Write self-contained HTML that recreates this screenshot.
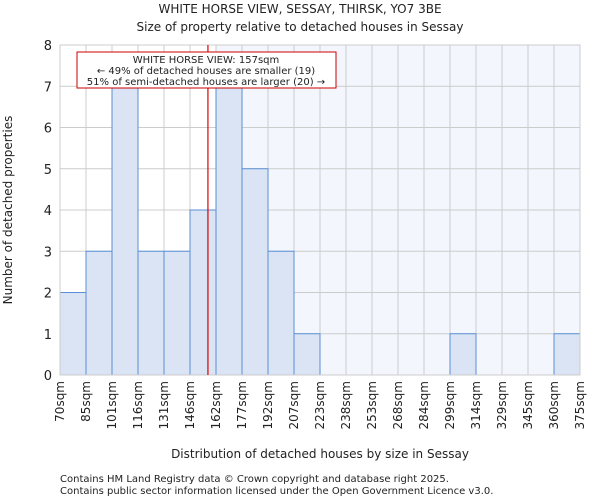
<!DOCTYPE html>
<html><head><meta charset="utf-8"><style>
body{margin:0;background:#fff;font-family:"DejaVu Sans","Liberation Sans",sans-serif;}
svg text{font-family:"DejaVu Sans","Liberation Sans",sans-serif;fill:#222;}
</style></head><body>
<svg id="chart" width="600" height="500" xmlns="http://www.w3.org/2000/svg">
<text x="300" y="13" text-anchor="middle" font-size="12">WHITE HORSE VIEW, SESSAY, THIRSK, YO7 3BE</text>
<text x="300" y="31" text-anchor="middle" font-size="12">Size of property relative to detached houses in Sessay</text>
<g id="plot"></g>
<text transform="translate(12,210) rotate(-90)" text-anchor="middle" font-size="12">Number of detached properties</text>
<text x="320" y="458" text-anchor="middle" font-size="12">Distribution of detached houses by size in Sessay</text>
<text x="60" y="482" font-size="10" fill="#444">Contains HM Land Registry data © Crown copyright and database right 2025.</text>
<text x="60" y="494" font-size="10" fill="#444">Contains public sector information licensed under the Open Government Licence v3.0.</text>
</svg>
<script>
const tickLabels=["70sqm","85sqm","101sqm","116sqm","131sqm","146sqm","162sqm","177sqm","192sqm","207sqm","223sqm","238sqm","253sqm","268sqm","284sqm","299sqm","314sqm","329sqm","345sqm","360sqm","375sqm"];
const counts=[2,3,7,3,3,4,7,5,3,1,0,0,0,0,0,1,0,0,0,1];
const yTicks=[0,1,2,3,4,5,6,7,8];
const markerBin=5.69;
const highlightFrom=6;
const NS="http://www.w3.org/2000/svg";
const x0=60,x1=580,y0=375,y1=45,yMax=8;
const bw=(x1-x0)/counts.length;
const X=i=>x0+i*bw, Y=v=>y0-(v/yMax)*(y0-y1);
const g=document.getElementById('plot');
function mk(t,a){const e=document.createElementNS(NS,t);for(const k in a)e.setAttribute(k,a[k]);g.appendChild(e);return e;}
let e=mk('rect',{x:X(highlightFrom),y:y1,width:x1-X(highlightFrom),height:y0-y1,fill:'#f3f6fd'});


yTicks.forEach(t=>{
 let l=mk('line',{x1:x0,x2:x1,y1:Y(t),y2:Y(t),stroke:'#cccccc'});
 
 
 let tx=mk('text',{x:x0-8,y:Y(t)+5,'text-anchor':'end','font-size':'13'});tx.textContent=t;
 
 
});
tickLabels.forEach((s,i)=>{
 let l=mk('line',{x1:X(i),x2:X(i),y1:y1,y2:y0,stroke:'#cccccc'});
 
 
 let tx=mk('text',{transform:`translate(${X(i)+4},${y0+6}) rotate(-90)`,'text-anchor':'end','font-size':'12'});tx.textContent=s;
 
 
});
counts.forEach((v,i)=>{if(v<=0)return;
 let r=mk('rect',{x:X(i),y:Y(v),width:bw,height:y0-Y(v),fill:'#dae4f4',stroke:'#5b8fd5','stroke-width':1});
 
 
});
let ax=mk('rect',{x:x0,y:y1,width:x1-x0,height:y0-y1,fill:'none',stroke:'#cccccc'});


let m=mk('line',{x1:X(markerBin),x2:X(markerBin),y1:y1,y2:y0,stroke:'#dd0000','stroke-width':1.2});


let bx=mk('rect',{x:77,y:52,width:259,height:36,fill:'#fff',stroke:'#cc0000'});


[["WHITE HORSE VIEW: 157sqm",63],["← 49% of detached houses are smaller (19)",74],["51% of semi-detached houses are larger (20) →",85]].forEach(([s,y])=>{
 let t=mk('text',{x:206,y:y,'text-anchor':'middle','font-size':'10'});t.textContent=s;
 
 
});
</script>
</body></html>
